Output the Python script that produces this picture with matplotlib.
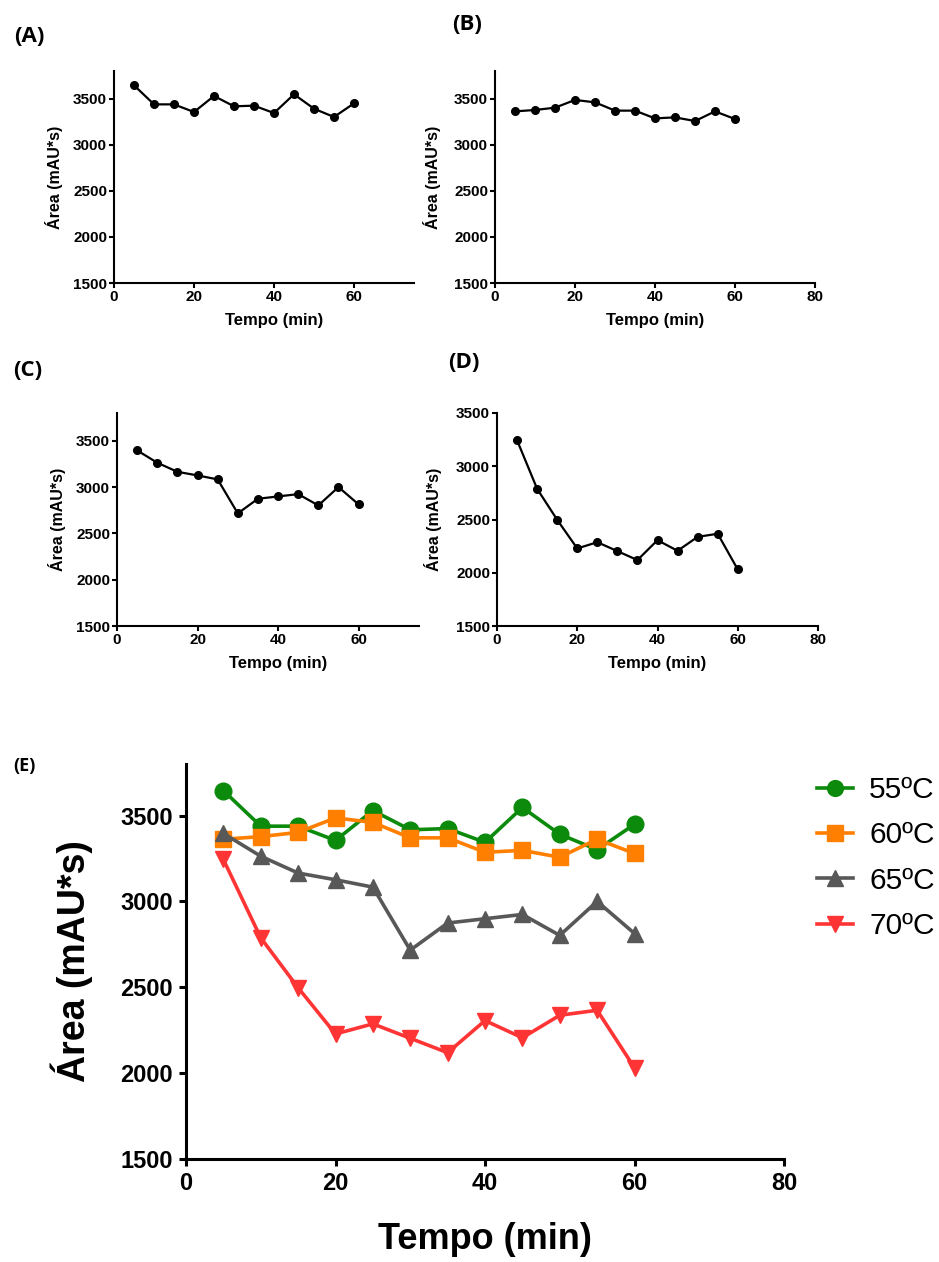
import matplotlib
matplotlib.use("Agg")
import matplotlib.pyplot as plt

# sampling times (min)
tempo = [5, 10, 15, 20, 25, 30, 35, 40, 45, 50, 55, 60]

# peak areas (mAU*s)
area_55 = [3645, 3438, 3438, 3355, 3529, 3417, 3424, 3344, 3547, 3391, 3301, 3449]
area_60 = [3362, 3377, 3402, 3486, 3460, 3370, 3370, 3286, 3297, 3257, 3362, 3279]
area_65 = [3396, 3263, 3165, 3126, 3083, 2716, 2874, 2899, 2924, 2802, 3000, 2813]
area_70 = [3244, 2788, 2497, 2228, 2287, 2203, 2119, 2306, 2206, 2337, 2366, 2031]

labels = ["55ºC", "60ºC", "65ºC", "70ºC"]
colors = ["#0c8a0c", "#ff8000", "#585858", "#ff3535"]
markers = ["o", "s", "^", "v"]
panel_names = ["(A)", "(B)", "(C)", "(D)"]

W, H = 939, 1262
plt.rcParams["font.family"] = ["Liberation Sans", "DejaVu Sans"]

fig = plt.figure(figsize=(W / 100, H / 100), dpi=100)


def add_box(left, top, right, bottom):
    """axes from a pixel box (top-left origin)"""
    return fig.add_axes([left / W, 1 - bottom / H, (right - left) / W, (bottom - top) / H])


def style_axes(ax, lw, tick_len, tick_size, pad):
    for side in ["top", "right"]:
        ax.spines[side].set_visible(False)
    for side in ["left", "bottom"]:
        ax.spines[side].set_linewidth(lw)
    ax.tick_params(direction="out", length=tick_len, width=lw, labelsize=tick_size, pad=pad)
    for lab in ax.get_xticklabels() + ax.get_yticklabels():
        lab.set_fontweight("bold")


# small panels: (box, series, xlim, xticks, ylim, label x pos, letter pos)
small = [
    ((114, 71, 414, 283), area_55, 75, [0, 20, 40, 60], 3800, 0.533, (14, 36)),
    ((495, 71, 815, 283), area_60, 80, [0, 20, 40, 60, 80], 3800, 0.5, (452, 24)),
    ((117, 413, 419, 626), area_65, 75, [0, 20, 40, 60], 3800, 0.533, (13, 370)),
    ((497, 413, 818, 626), area_70, 80, [0, 20, 40, 60, 80], 3500, 0.5, (448, 362)),
]

for i, (box, vals, xmax, xt, ymax, xlab_x, letter) in enumerate(small):
    ax = add_box(*box)
    ax.plot(tempo, vals, color="black", lw=1.6, marker="o", ms=5.5, clip_on=False)
    ax.set_xlim(0, xmax)
    ax.set_ylim(1500, ymax)
    ax.set_xticks(xt)
    ax.set_yticks([1500, 2000, 2500, 3000, 3500])
    style_axes(ax, 1.5, 3.5, 11, 1.5)
    ax.set_xlabel("Tempo (min)", fontsize=12, fontweight="bold", labelpad=2)
    ax.set_ylabel("Área (mAU*s)", fontsize=11.5, fontweight="bold", labelpad=2)
    ax.xaxis.set_label_coords(xlab_x, -0.14)
    ax.yaxis.set_label_coords(-0.17, 0.5)
    fig.text(letter[0] / W, 1 - letter[1] / H, panel_names[i], fontsize=16,
             fontweight="bold", family=["Open Sans", "DejaVu Sans"], va="center", ha="left")

# panel E: all temperatures together
ax = add_box(186, 764, 784, 1159)
series = [area_55, area_60, area_65, area_70]
for vals, lab, c, m in zip(series, labels, colors, markers):
    ax.plot(tempo, vals, color=c, lw=2.6, marker=m, ms=12, label=lab, clip_on=False)
ax.set_xlim(0, 80)
ax.set_ylim(1500, 3800)
ax.set_xticks([0, 20, 40, 60, 80])
ax.set_yticks([1500, 2000, 2500, 3000, 3500])
style_axes(ax, 2.2, 5, 17, 4.5)
ax.set_xlabel("Tempo (min)", fontsize=26, fontweight="bold")
ax.set_ylabel("Área (mAU*s)", fontsize=27, fontweight="bold")
ax.xaxis.set_label_coords(0.5, -0.16)
ax.yaxis.set_label_coords(-0.155, 0.5)
fig.text(13 / W, 1 - 766 / H, "(E)", fontsize=13, fontweight="bold",
         family=["Open Sans", "DejaVu Sans"], va="center", ha="left")

ax.legend(loc="upper left", bbox_to_anchor=(817 / W, 1 - 776 / H),
          bbox_transform=fig.transFigure, frameon=False, fontsize=21.5,
          handlelength=1.2, handletextpad=0.55, labelspacing=0.58,
          borderpad=0, borderaxespad=0, markerscale=0.95)

fig.savefig("out.png", dpi=100)
